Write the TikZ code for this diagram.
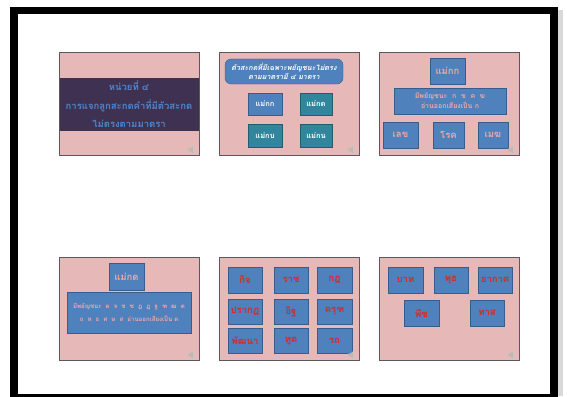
\documentclass[tikz,border=0pt]{standalone}
\usepackage{fontspec}
\usepackage{tikz}
\usepackage{xcolor}
\newfontfamily\thaifont[Script=Thai]{Loma}
\definecolor{slidepink}{HTML}{E6B9B8}
\definecolor{bandpurple}{HTML}{3F3151}
\definecolor{boxblue}{HTML}{4F81BD}
\definecolor{boxline}{HTML}{385D8A}
\definecolor{boxteal}{HTML}{31859C}
\definecolor{titleblue}{HTML}{4F86D0}
\definecolor{softpink}{HTML}{F2A7A7}
\definecolor{wordred}{HTML}{D42A2A}
\tikzset{
    slide-box/.style = {draw=gray!70!black, fill=slidepink, line width=0.8pt, rectangle, minimum width=140pt, minimum height=103pt, inner sep=0pt},
    band-box/.style = {fill=bandpurple, rectangle, minimum width=139pt, minimum height=53pt, inner sep=0pt, text=titleblue, align=center, font=\thaifont\bfseries\fontsize{9.5}{18.5}\selectfont},
    blue-box/.style = {draw=boxline, fill=boxblue, thin, rectangle, inner sep=0pt, align=center, font=\thaifont\bfseries\fontsize{7.5}{9}\selectfont},
    teal-box/.style = {blue-box, fill=boxteal, draw=boxteal!70!black},
    title-box/.style = {blue-box, rounded corners=6pt, text=white, font=\thaifont\bfseries\itshape\fontsize{7.2}{9}\selectfont},
    rule-box/.style = {blue-box, text=softpink, font=\thaifont\bfseries\fontsize{6.5}{10.5}\selectfont},
    word-box/.style = {blue-box, text=wordred, font=\thaifont\bfseries\fontsize{9.5}{11}\selectfont},
}
\newcommand{\speakericon}[1]{%
  \fill[gray!55] ([shift={(-11,-7)}]#1.south east) -- ++(2,0) -- ++(2.5,-2) -- ++(0,7) -- ++(-2.5,-2) -- ++(-2,0) -- cycle;}

\begin{document}
\begin{tikzpicture}[x=1pt, y=-1pt]
\useasboundingbox (0,0) rectangle (567,396);
% frame of the slide sorter
\fill[white] (0,0) rectangle (567,396);
\fill[gray!30] (558,10) rectangle (563,396);
\fill[black] (10,7) rectangle (558,400);
\fill[white] (18,14) rectangle (550,394);

% slide 1
\node [slide-box] (s1) at (129,103.5) {};
\node [band-box] (s1band) at (129,104.5) {หน่วยที่ ๔\\การแจกลูกสะกดคำที่มีตัวสะกด\\ไม่ตรงตามมาตรา};
\speakericon{s1}

% slide 2
\node [slide-box] (s2) at (289,103.5) {};
\node [title-box, minimum width=118pt, minimum height=25pt] (s2title) at (284,71.5) {ตัวสะกดที่มีเฉพาะพยัญชนะไม่ตรง\\ตามมาตรามี ๔ มาตรา};
\node [blue-box, text=white, minimum width=34pt, minimum height=22pt] (kk) at (265,104) {แม่กก};
\node [teal-box, text=white, minimum width=32pt, minimum height=22pt] (kd) at (316,104) {แม่กด};
\node [teal-box, text=white, minimum width=34pt, minimum height=23pt] (kb) at (265,135.5) {แม่กบ};
\node [teal-box, text=white, minimum width=32pt, minimum height=23pt] (kn) at (316,135.5) {แม่กน};
\speakericon{s2}

% slide 3
\node [slide-box] (s3) at (449,103.5) {};
\node [word-box, text=softpink, minimum width=35pt, minimum height=26pt] (s3top) at (447.5,71) {แม่กก};
\node [rule-box, font=\thaifont\bfseries\fontsize{7}{10}\selectfont, minimum width=112pt, minimum height=26pt] (s3rule) at (450,101) {มีพยัญชนะ \ ก \ ข \ ค \ ฆ\\อ่านออกเสียงเป็น ก};
\node [word-box, text=softpink, minimum width=35pt, minimum height=26pt] (lek) at (400.5,135) {เลข};
\node [word-box, text=softpink, minimum width=31pt, minimum height=26pt] (rok) at (448.5,135) {โรค};
\node [word-box, text=softpink, minimum width=30pt, minimum height=26pt] (mek) at (493,135) {เมฆ};
\speakericon{s3}

% slide 4
\node [slide-box] (s4) at (129,308.5) {};
\node [word-box, text=softpink, minimum width=35pt, minimum height=27pt] (s4top) at (126.5,276.5) {แม่กด};
\node [rule-box, font=\thaifont\bfseries\fontsize{6.1}{12.5}\selectfont, minimum width=124pt, minimum height=41pt] (s4rule) at (129,312.5) {มีพยัญชนะ \ ด \ จ \ ช \ ซ \ ฎ \ ฏ \ ฐ \ ฑ \ ฒ \ ต\\ถ \ ท \ ธ \ ศ \ ษ \ ส \ อ่านออกเสียงเป็น ด};
\speakericon{s4}

% slide 5
\node [slide-box] (s5) at (289,308.5) {};
\node [word-box, minimum width=34pt, minimum height=26pt] (kit) at (245,280) {กิจ};
\node [word-box, minimum width=34pt, minimum height=26pt] (rat) at (291,280) {ราช};
\node [word-box, minimum width=35pt, minimum height=26pt] (kot) at (334.5,280) {กฎ};
\node [word-box, minimum width=34pt, minimum height=25pt] (prakot) at (245,311.5) {ปรากฏ};
\node [word-box, minimum width=34pt, minimum height=25pt] (it) at (291,311.5) {อิฐ};
\node [word-box, minimum width=35pt, minimum height=25pt] (khrut) at (334.5,311.5) {ครุฑ};
\node [word-box, minimum width=34pt, minimum height=25pt] (phatthana) at (245,340.5) {พัฒนา};
\node [word-box, minimum width=34pt, minimum height=25pt] (thut) at (291,340.5) {ทูต};
\node [word-box, minimum width=35pt, minimum height=25pt] (rot) at (334.5,340.5) {รถ};
\speakericon{s5}

% slide 6
\node [slide-box] (s6) at (449,308.5) {};
\node [word-box, minimum width=35pt, minimum height=26pt] (bat) at (405.5,280) {บาท};
\node [word-box, minimum width=34pt, minimum height=26pt] (phut) at (451,280) {พุธ};
\node [word-box, minimum width=34pt, minimum height=26pt] (akat) at (495,280) {อากาศ};
\node [word-box, minimum width=35pt, minimum height=26pt] (phuet) at (421.5,313) {พืช};
\node [word-box, minimum width=34pt, minimum height=26pt] (that) at (487,313) {ทาส};
\speakericon{s6}
\end{tikzpicture}
\end{document}
